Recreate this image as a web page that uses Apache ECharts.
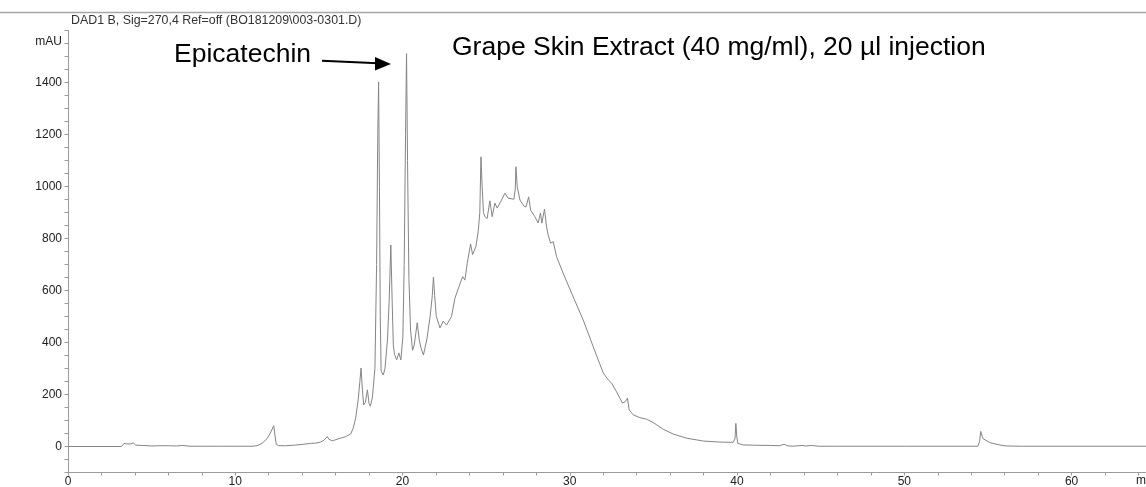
<!DOCTYPE html>
<html>
<head>
<meta charset="utf-8">
<script src="https://cdn.jsdelivr.net/npm/echarts@6/dist/echarts.min.js"></script>
<style>
  html, body { margin: 0; padding: 0; background: #fff; }
  #chart { width: 1146px; height: 487px; }
</style>
</head>
<body>
<div id="chart"></div>
<script>
// DAD1 B signal at 270 nm: retention time (min) and absorbance (mAU)
const retentionTime = [
  0, 3.2, 3.35, 3.5, 3.6, 3.75, 3.9, 4.05, 4.5, 5.0, 5.5, 6.0, 6.5, 6.8, 7.0, 7.3, 8.0, 9.0, 10.0, 11.0,
  11.3, 11.6, 11.9, 12.1, 12.3, 12.38, 12.45, 12.6, 13.0, 13.5, 14.0, 14.5, 14.8, 15.1, 15.3, 15.5, 15.6, 15.8,
  16.0, 16.3, 16.6, 16.9, 17.05, 17.2, 17.35, 17.45, 17.52, 17.6, 17.68, 17.78, 17.9, 18.0, 18.08, 18.2,
  18.35, 18.45, 18.52, 18.57, 18.62, 18.67, 18.72, 18.85, 18.95, 19.1, 19.2, 19.3, 19.38, 19.45, 19.52,
  19.65, 19.78, 19.9, 20.02, 20.1, 20.18, 20.24, 20.3, 20.38, 20.48, 20.6, 20.7, 20.88, 21.0, 21.1, 21.25,
  21.45, 21.65, 21.78, 21.85, 21.92, 22.02, 22.24, 22.43, 22.63, 22.93, 23.13, 23.43, 23.6, 23.73, 23.87,
  24.07, 24.19, 24.39, 24.53, 24.62, 24.69, 24.76, 24.84, 24.92, 25.06, 25.22, 25.36, 25.52, 25.66, 25.92,
  26.12, 26.32, 26.66, 26.74, 26.78, 26.86, 26.94, 27.02, 27.12, 27.26, 27.38, 27.54, 27.66, 27.91, 28.11,
  28.25, 28.33, 28.49, 28.61, 28.71, 28.85, 29.01, 29.21, 29.6, 30.2, 30.8, 31.4, 32.0, 32.3, 32.5, 32.79,
  33.15, 33.33, 33.45, 33.55, 33.79, 34.19, 34.59, 34.99, 35.59, 36.18, 36.98, 37.98, 38.97, 39.77, 39.88,
  39.93, 39.98, 40.05, 40.37, 41.0, 42.0, 42.56, 42.7, 42.86, 43.0, 43.3, 43.9, 44.1, 44.45, 44.9, 46.0,
  50.0, 54.4, 54.5, 54.57, 54.65, 54.71, 55.11, 55.7, 56.1, 57.0, 64.5
];
const absorbance = [
  0, 0, 12, 10, 15, 10, 14, 5, 4, 2, 3, 3, 2, 4, 3, 1, 1, 1, 1, 1,
  3, 12, 30, 52, 80, 40, 8, 3, 3, 5, 8, 12, 13, 17, 24, 38, 28, 22,
  26, 32, 38, 48, 70, 110, 180, 250, 302, 220, 160, 170, 218, 165, 155, 190,
  300, 700, 1200, 1402, 1000, 500, 290, 275, 300, 410, 560, 775, 560, 390, 355,
  333, 360, 333, 420, 700, 1200, 1511, 1100, 650, 448, 370, 390, 476, 410, 380, 352,
  410, 500, 580, 652, 580, 500, 456, 482, 467, 500, 570, 625, 653, 640, 705,
  779, 738, 770, 830, 900, 1114, 1000, 900, 884, 877, 945, 884, 936, 917, 948,
  974, 955, 951, 990, 1076, 999, 1005, 948, 955, 925, 921, 960, 909, 884, 860,
  898, 859, 913, 845, 813, 782, 788, 730, 667, 576, 487, 384, 283, 256, 244, 211,
  167, 173, 186, 141, 122, 111, 105, 92, 66, 48, 32, 21, 17, 16, 30,
  89, 40, 12, 6, 5, 4, 3, 7, 8, 3, 1, 4, 2, 4, 1, 1,
  1, 1, 20, 58, 40, 30, 15, 6, 2, 1, 1
];

// Axis label values
const timeLabels = [0, 10, 20, 30, 40, 50, 60];
const mauLabels = [0, 200, 400, 600, 800, 1000, 1200, 1400];

// Texts
const headerText = 'DAD1 B, Sig=270,4 Ref=off (BO181209\\003-0301.D)';
const peakNote = 'Epicatechin';
const sampleNote = 'Grape Skin Extract (40 mg/ml), 20 µl injection';

const FONT = '"Liberation Sans", Arial, sans-serif';
const AXIS_GREY = '#9b9b9b';

const trace = retentionTime.map((t, i) => [t, absorbance[i]]);

const chart = echarts.init(document.getElementById('chart'), null, { renderer: 'canvas' });

chart.setOption({
  animation: false,
  backgroundColor: '#ffffff',
  textStyle: { fontFamily: FONT },
  grid: {
    left: 68, right: 0, top: 30.5, bottom: 14.5,
    containLabel: false, outerBoundsMode: 'none'
  },
  xAxis: {
    type: 'value',
    min: 0, max: 64.45, interval: 2,
    axisLine: { show: true, onZero: false, lineStyle: { color: AXIS_GREY, width: 1 } },
    axisTick: { show: true, inside: false, length: 3, lineStyle: { color: AXIS_GREY } },
    axisLabel: {
      show: true, margin: 3, color: '#222', fontSize: 12, fontFamily: FONT,
      showMaxLabel: false,
      formatter: v => timeLabels.includes(v) ? String(v) : ''
    },
    splitLine: { show: false }
  },
  yAxis: {
    type: 'value',
    min: -100, max: 1600, interval: 50,
    axisLine: { show: true, onZero: false, lineStyle: { color: AXIS_GREY, width: 1 } },
    axisTick: { show: true, inside: false, length: 3.5, lineStyle: { color: AXIS_GREY } },
    axisLabel: {
      show: true, margin: 6, color: '#222', fontSize: 12, fontFamily: FONT,
      formatter: v => mauLabels.includes(v) ? String(v) : ''
    },
    splitLine: { show: false }
  },
  series: [{
    type: 'line',
    data: trace,
    showSymbol: false,
    symbol: 'none',
    clip: true,
    lineStyle: { color: '#858585', width: 1 },
    emphasis: { disabled: true }
  }],
  graphic: [
    { type: 'line', silent: true,
      shape: { x1: 0, y1: 12.5, x2: 1146, y2: 12.5 },
      style: { stroke: '#a6a6a6', lineWidth: 1.5 } },
    { type: 'text', silent: true, x: 71, y: 20.5,
      style: { text: headerText, font: '12.4px ' + FONT, fill: '#333', textVerticalAlign: 'middle' } },
    { type: 'text', silent: true, x: 62, y: 42,
      style: { text: 'mAU', font: '12px ' + FONT, fill: '#222', textAlign: 'right', textVerticalAlign: 'middle' } },
    { type: 'text', silent: true, x: 1136, y: 480.5,
      style: { text: 'min', font: '12px ' + FONT, fill: '#222', textVerticalAlign: 'middle' } },
    { type: 'text', silent: true, x: 174, y: 55,
      style: { text: peakNote, font: '26.5px ' + FONT, fill: '#000', textVerticalAlign: 'middle' } },
    { type: 'text', silent: true, x: 452, y: 48,
      style: { text: sampleNote, font: '26.5px ' + FONT, fill: '#000', textVerticalAlign: 'middle' } },
    // arrow pointing at the epicatechin peak
    { type: 'line', silent: true,
      shape: { x1: 322, y1: 60.8, x2: 378, y2: 63.2 },
      style: { stroke: '#000', lineWidth: 2 } },
    { type: 'polygon', silent: true,
      shape: { points: [[391, 64], [375, 57], [375, 70.5]] },
      style: { fill: '#000' } }
  ]
});
</script>
</body>
</html>
